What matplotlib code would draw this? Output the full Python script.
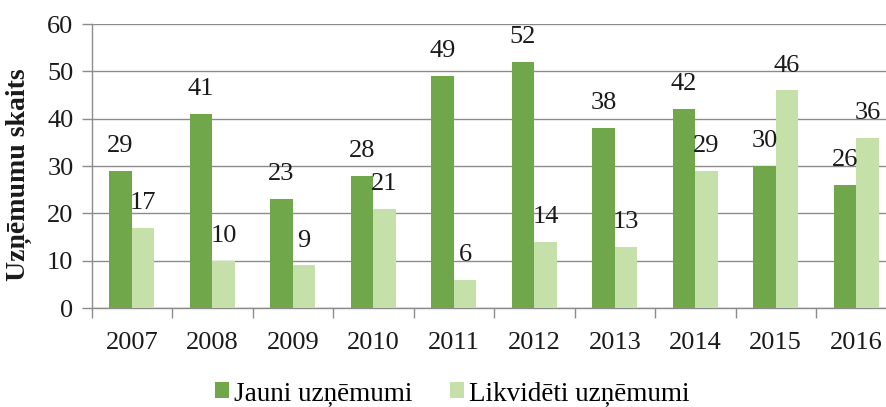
import numpy as np
import matplotlib
matplotlib.use('Agg')
import matplotlib.pyplot as plt
from matplotlib.patches import Patch

#-------------------------   Data   ---------------------------------
years = ['2007', '2008', '2009', '2010', '2011', '2012', '2013', '2014', '2015', '2016']
jauni = [29, 41, 23, 28, 49, 52, 38, 42, 30, 26]
likvideti = [17, 10, 9, 21, 6, 14, 13, 29, 46, 36]
labels = ['Jauni uzņēmumi', 'Likvidēti uzņēmumi']

#-------------------------   Style   --------------------------------
plt.rcParams['font.family'] = ['Liberation Serif', 'DejaVu Serif']
fsize = 19
legsize = 19.5
cols = ['#70A74A', '#C6E0A9']
gridcol = '#8c8c8c'
txtcol = '#1a1a1a'
bwidth = 0.28

fig = plt.figure(figsize=(8.87, 4.07), dpi=100)
ax = fig.add_axes([0.1032, 0.2430, 0.9075, 0.698])

x = np.arange(len(years))
b1 = ax.bar(x - bwidth/2, jauni, width=bwidth, color=cols[0], zorder=3)
b2 = ax.bar(x + bwidth/2, likvideti, width=bwidth, color=cols[1], zorder=3)

#Value labels above bars
for bars, vals in [(b1, jauni), (b2, likvideti)]:
    for rect, v in zip(bars, vals):
        ax.annotate(str(v), (rect.get_x() + rect.get_width()/2, v),
                    xytext=(0, 13.5), textcoords='offset points',
                    ha='center', va='baseline', fontsize=fsize, color=txtcol)

#Y axis
ax.set_ylim(0, 60)
ax.set_yticks(range(0, 61, 10))
ax.yaxis.grid(True, color=gridcol, linewidth=1.0, zorder=0)
ax.set_axisbelow(True)
ax.set_ylabel('Uzņēmumu skaits', fontsize=20, fontweight='bold', color=txtcol)
ax.yaxis.set_label_coords(-0.074, 0.468)

#X axis - ticks between categories
ax.set_xlim(-0.5, len(years) - 0.5)
ax.set_xticks(np.arange(-0.5, len(years) - 0.4, 1.0))
ax.set_xticklabels([])
ax.set_xticks(x, minor=True)
ax.set_xticklabels(years, minor=True)
ax.tick_params(axis='x', which='minor', length=0, pad=17, labelsize=fsize, labelcolor=txtcol)
ax.tick_params(axis='x', which='major', length=7, width=1.0, color=gridcol, direction='out')
ax.tick_params(axis='y', length=7, width=1.0, color=gridcol, pad=6, labelsize=fsize, labelcolor=txtcol)

for s in ['top', 'right']:
    ax.spines[s].set_visible(False)
for s in ['left', 'bottom']:
    ax.spines[s].set_color(gridcol)
    ax.spines[s].set_linewidth(1.0)

#Legend
handles = [Patch(facecolor=cols[0]), Patch(facecolor=cols[1])]
fig.legend(handles, labels, loc='center', bbox_to_anchor=(0.510, 0.034), ncol=2,
           frameon=False, fontsize=legsize, handlelength=0.5, handleheight=0.5,
           handletextpad=0.2, columnspacing=1.4, borderpad=0.1)

plt.savefig('out.png', dpi=100)
